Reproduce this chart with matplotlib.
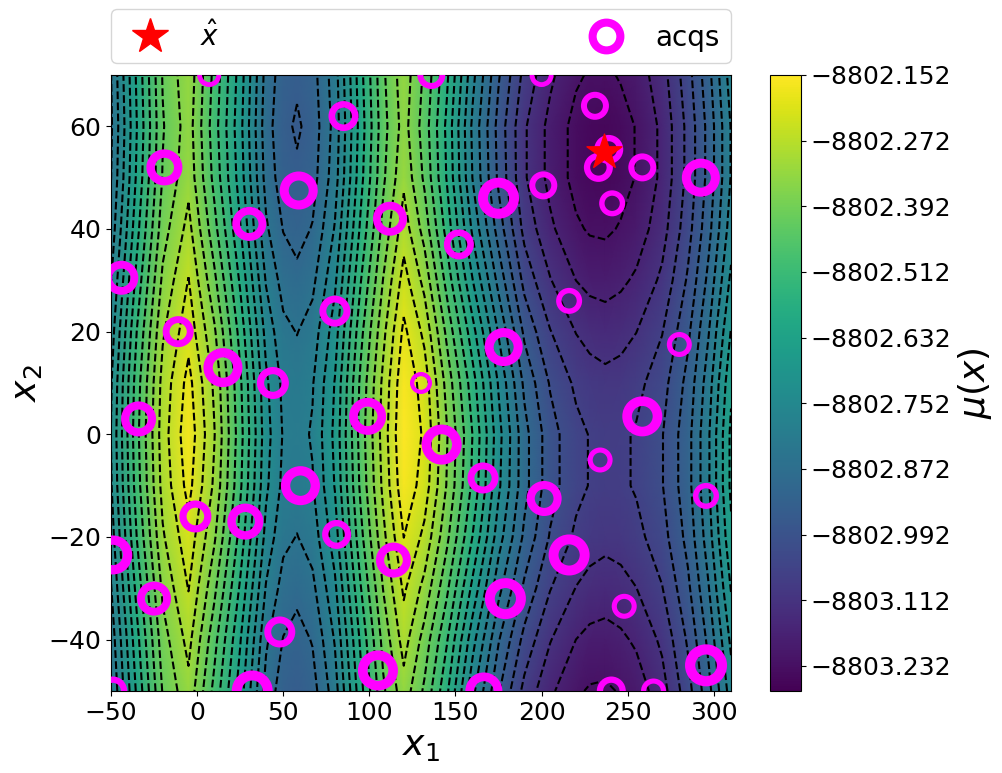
import numpy as np
import matplotlib
matplotlib.use("Agg")
import matplotlib.pyplot as plt
from matplotlib.lines import Line2D

x_nodes = [-50, -35, -20, -5, 10, 25, 40, 50, 58, 67, 80, 95, 108, 120, 132, 145, 160,
           175, 190, 205, 220, 228, 237, 246, 255, 270, 285, 297, 310]
y_nodes = [70, 60, 50, 40, 30, 20, 10, 0, -10, -20, -30, -40, -50]

# depth below -8802, in thousandths, one line per x node, top to bottom in y
mu_depth = [
    [850, 858, 850, 829, 799, 770, 748, 740, 748, 770, 799, 829, 850],
    [625, 635, 625, 599, 563, 526, 500, 490, 500, 526, 563, 599, 625],
    [416, 425, 416, 390, 355, 320, 294, 285, 294, 320, 355, 390, 416],
    [330, 340, 330, 295, 257, 225, 187, 170, 187, 225, 257, 295, 330],
    [490, 503, 490, 455, 407, 358, 323, 310, 323, 358, 407, 455, 490],
    [660, 671, 660, 630, 589, 547, 517, 506, 517, 547, 589, 630, 660],
    [869, 880, 869, 840, 800, 760, 731, 720, 731, 760, 800, 840, 869],
    [931, 940, 931, 905, 870, 835, 809, 800, 809, 835, 870, 905, 931],
    [945, 965, 945, 924, 887, 851, 824, 814, 824, 851, 887, 924, 950],
    [925, 935, 925, 899, 863, 826, 800, 790, 800, 826, 863, 899, 925],
    [820, 830, 820, 791, 753, 714, 685, 675, 685, 714, 753, 791, 820],
    [599, 610, 599, 570, 530, 490, 461, 450, 461, 490, 530, 570, 599],
    [430, 440, 430, 403, 365, 328, 300, 290, 300, 328, 365, 403, 430],
    [335, 345, 325, 285, 237, 193, 163, 152, 167, 205, 250, 290, 335],
    [430, 445, 430, 388, 330, 273, 230, 215, 230, 273, 330, 388, 430],
    [570, 593, 585, 548, 493, 433, 385, 362, 370, 407, 462, 522, 570],
    [780, 807, 798, 753, 687, 615, 557, 529, 539, 583, 650, 722, 780],
    [950, 975, 967, 926, 866, 800, 747, 722, 731, 771, 832, 898, 950],
    [1080, 1110, 1110, 1080, 1027, 967, 914, 884, 884, 914, 967, 1027, 1080],
    [1160, 1187, 1187, 1160, 1114, 1061, 1015, 988, 988, 1015, 1061, 1114, 1160],
    [1216, 1242, 1242, 1216, 1171, 1119, 1074, 1048, 1048, 1074, 1119, 1171, 1216],
    [1230, 1256, 1256, 1230, 1186, 1136, 1092, 1066, 1066, 1092, 1136, 1186, 1230],
    [1233, 1257, 1257, 1233, 1191, 1143, 1102, 1078, 1078, 1102, 1143, 1191, 1233],
    [1220, 1243, 1243, 1220, 1181, 1135, 1096, 1073, 1073, 1096, 1135, 1181, 1220],
    [1200, 1222, 1222, 1200, 1162, 1118, 1080, 1058, 1058, 1080, 1118, 1162, 1200],
    [1140, 1159, 1159, 1140, 1106, 1066, 1032, 1013, 1013, 1032, 1066, 1106, 1140],
    [1031, 1048, 1048, 1031, 1002, 968, 939, 922, 922, 939, 968, 1002, 1031],
    [920, 938, 938, 920, 888, 852, 820, 802, 802, 820, 852, 888, 920],
    [769, 792, 792, 769, 730, 685, 646, 623, 623, 646, 685, 730, 769],
]

acq_x = [7, 136, 200, 85, 231, 239, 233, 258.5, 292.5, -19, 59, 30.3, 112, 175, 201, 241, 152,
         -44, 216, 80, -11, 178, 280, 15, 44, 130, -34, 99, 258.5, 142, 234, 166, 60, -1,
         28, 201.5, 295.5, -49, 81, 114, 216, -25, 179, 248, 48, 105, 295.5, 32, 166.5, 240.5, 265, -49]
acq_y = [70, 70, 70, 62, 64, 55.5, 52, 52, 50, 52, 47.5, 41, 42, 46, 48.5, 45, 37,
         30.5, 26, 24, 20, 17, 17.5, 13, 10, 10, 3, 3.5, 3.5, -2, -5, -8.5, -10, -16,
         -17, -12.5, -12, -23.5, -19.5, -24.5, -23.5, -32, -32, -33.5, -38.5, -46, -45, -50, -50, -50, -50, -50]
acq_weight = [24, 28, 24, 30, 28, 29, 29, 28, 38, 36, 38, 34, 34, 41, 28, 26, 30,
              34, 26, 31, 31, 38, 25, 39, 32, 22, 35, 37, 40, 40, 25, 31, 39, 32,
              36, 35, 26, 39, 29, 35, 41, 34, 41, 25, 31, 40, 42, 41, 37, 29, 25, 29]
best_x = [236]
best_y = [55]

x_ticks = [-50, 0, 50, 100, 150, 200, 250, 300]
y_ticks = [-40, -20, 0, 20, 40, 60]
cbar_ticks = [-8803.232, -8803.112, -8802.992, -8802.872, -8802.752,
              -8802.632, -8802.512, -8802.392, -8802.272, -8802.152]
mu_min, mu_max = -8803.278, -8802.152
n_level_steps = 21

W, H = 1003, 773
DPI = 100
fig = plt.figure(figsize=(W / DPI, H / DPI), dpi=DPI)
ax = fig.add_axes([111 / W, 1 - 691 / H, 620 / W, 616 / H])
cax = fig.add_axes([770 / W, 1 - 691 / H, 31 / W, 616 / H])

X, Y = np.meshgrid(x_nodes, y_nodes)
Z = -8802.0 - np.array(mu_depth, dtype=float).T / 1000.0

mesh = ax.pcolormesh(X, Y, Z, shading="gouraud", cmap="viridis", vmin=mu_min, vmax=mu_max, rasterized=True)
levels = np.linspace(mu_min, mu_max, n_level_steps + 1)[1:-1]
ax.contour(X, Y, Z, levels=levels, colors="k", linestyles="--", linewidths=1.5)

d = np.array(acq_weight, dtype=float)
ring_px = 0.3 * (d - 8)
ax.scatter(acq_x, acq_y, s=((d - ring_px) * 0.72) ** 2, facecolors="none",
           edgecolors="#ff00ff", linewidths=ring_px * 0.72, zorder=3)
ax.scatter(best_x, best_y, marker="*", s=700, color="red", zorder=4)

ax.set_xlim(-50, 310)
ax.set_ylim(-50, 70)
ax.set_xticks(x_ticks)
ax.set_yticks(y_ticks)
ax.tick_params(labelsize=18)
ax.set_xlabel("$x_1$", fontsize=26, labelpad=3)
ax.set_ylabel("$x_2$", fontsize=26, labelpad=3)

cb = fig.colorbar(mesh, cax=cax)
cb.set_ticks(cbar_ticks)
cb.set_ticklabels([f"{t:.3f}".replace("-", "\u2212") for t in cbar_ticks])
cb.ax.tick_params(labelsize=18)
cb.set_label(r"$\mu(x)$", fontsize=26, labelpad=3)
cb.outline.set_linewidth(0.8)

handles = [
    Line2D([], [], ls="none", marker="*", color="red", markersize=26.5),
    Line2D([], [], ls="none", marker="o", mfc="none", mec="#ff00ff", mew=5.8, markersize=20),
]
ax.legend(handles, [r"$\hat{x}$", "acqs"], loc="lower left", bbox_to_anchor=(0, 1.02, 1, 0.07),
          mode="expand", ncol=2, fontsize=20, borderaxespad=0, handletextpad=0.8)

fig.savefig("out.png", dpi=DPI)
